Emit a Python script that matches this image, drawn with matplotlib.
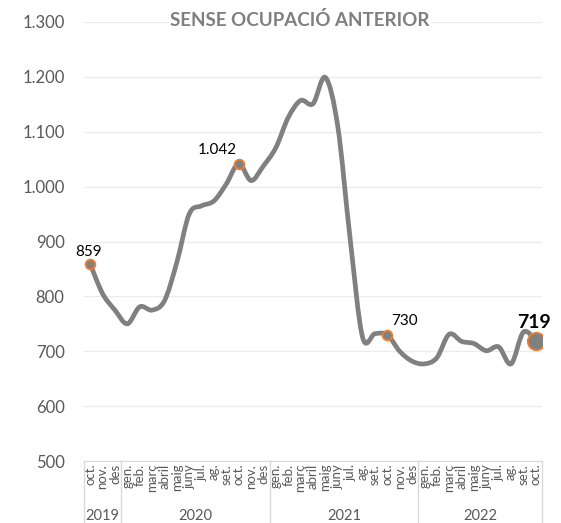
import numpy as np
import matplotlib
matplotlib.use('Agg')
import matplotlib.pyplot as plt
from matplotlib.path import Path
from matplotlib.patches import PathPatch
import matplotlib.transforms as mtransforms

plt.rcParams['font.family'] = ['Lato', 'DejaVu Sans']

# dades mensuals oct 2019 - oct 2022
mesos = ['oct.', 'nov.', 'des',
         'gen.', 'feb.', 'març', 'abril', 'maig', 'juny', 'jul.', 'ag.', 'set.', 'oct.', 'nov.', 'des',
         'gen.', 'feb.', 'març', 'abril', 'maig', 'juny', 'jul.', 'ag.', 'set.', 'oct.', 'nov.', 'des',
         'gen.', 'feb.', 'març', 'abril', 'maig', 'juny', 'jul.', 'ag.', 'set.', 'oct.']
valors = [859, 805, 775,
          750, 781, 775, 792, 862, 950, 965, 974, 1005, 1042, 1011, 1038,
          1071, 1126, 1157, 1151, 1199, 1110, 905, 726, 732, 730, 700, 682,
          677, 688, 731, 718, 714, 701, 708, 677, 735, 719]
anys = ['2019', '2020', '2021', '2022']
mesos_per_any = [3, 12, 12, 10]
destacats = [0, 12, 24, 36]  # punts amb etiqueta


def fmt(v):
    return '{:,}'.format(v).replace(',', '.')


fig = plt.figure(figsize=(5.61, 5.23), dpi=100)
ax = fig.add_axes([84 / 561, 1 - 461 / 523, (542 - 84) / 561, (461 - 22) / 523])

x = np.arange(len(valors))
y = np.array(valors, dtype=float)

# línia suavitzada tipus Excel (corbes de Bezier)
verts = [(x[0], y[0])]
codes = [Path.MOVETO]
n = len(x)
for i in range(n - 1):
    p0 = np.array([x[max(i - 1, 0)], y[max(i - 1, 0)]])
    p1 = np.array([x[i], y[i]])
    p2 = np.array([x[i + 1], y[i + 1]])
    p3 = np.array([x[min(i + 2, n - 1)], y[min(i + 2, n - 1)]])
    c1 = p1 + (p2 - p0) / 6
    c2 = p2 - (p3 - p1) / 6
    verts += [tuple(c1), tuple(c2), tuple(p2)]
    codes += [Path.CURVE4] * 3
ax.add_patch(PathPatch(Path(verts, codes), fill=False, edgecolor='#808080',
                       lw=3.4, capstyle='round', joinstyle='round', zorder=3))

# punts destacats
for i in destacats:
    ms = 12.5 if i == destacats[-1] else 7
    ax.plot(x[i], y[i], 'o', ms=ms, mfc='#808080', mec='#ED7D31', mew=1.3, zorder=4)

offs = {0: (-2, 12), 12: (-21, 14), 24: (17, 14), 36: (-2, 18)}
for i in destacats:
    bold = i == destacats[-1]
    ax.annotate(fmt(valors[i]), (x[i], y[i]), xytext=offs[i], textcoords='offset pixels',
                ha='center', va='center', fontsize=14 if bold else 11,
                fontweight='bold' if bold else 'normal', color='black', zorder=5)

ax.set_xlim(-0.5, n - 0.5)
ax.set_ylim(500, 1300)
ax.set_yticks(range(500, 1301, 100))
ax.set_yticklabels([fmt(v) for v in range(500, 1301, 100)], fontsize=12, color='#595959')
ax.yaxis.grid(True, color='#ebebeb', lw=1)
ax.set_axisbelow(True)
ax.tick_params(axis='y', length=0, pad=14)
ax.tick_params(axis='x', length=0, pad=2)
ax.set_xticks(x)
ax.set_xticklabels(mesos, rotation=90, fontsize=9.5, color='#595959')
for s in ['top', 'right', 'left']:
    ax.spines[s].set_visible(False)
ax.spines['bottom'].set_color('#d9d9d9')

# separadors i etiquetes d'any
trans = mtransforms.blended_transform_factory(ax.transData, ax.transAxes)
baix = -62 / 439
lims = np.concatenate([[0], np.cumsum(mesos_per_any)]) - 0.5
for b in lims:
    ax.plot([b, b], [0, baix], color='#d9d9d9', lw=1, transform=trans, clip_on=False)
for k, a in enumerate(anys):
    ax.text((lims[k] + lims[k + 1]) / 2, -55 / 439, a, transform=trans,
            ha='center', va='center', fontsize=10.5, color='#595959')

fig.text(300 / 561, 1 - 20 / 523, 'SENSE OCUPACIÓ ANTERIOR', ha='center', va='center',
         fontsize=13.5, fontweight='bold', color='#7f7f7f',
         bbox=dict(facecolor='white', edgecolor='none', pad=1))

fig.savefig('out.png', dpi=100)
